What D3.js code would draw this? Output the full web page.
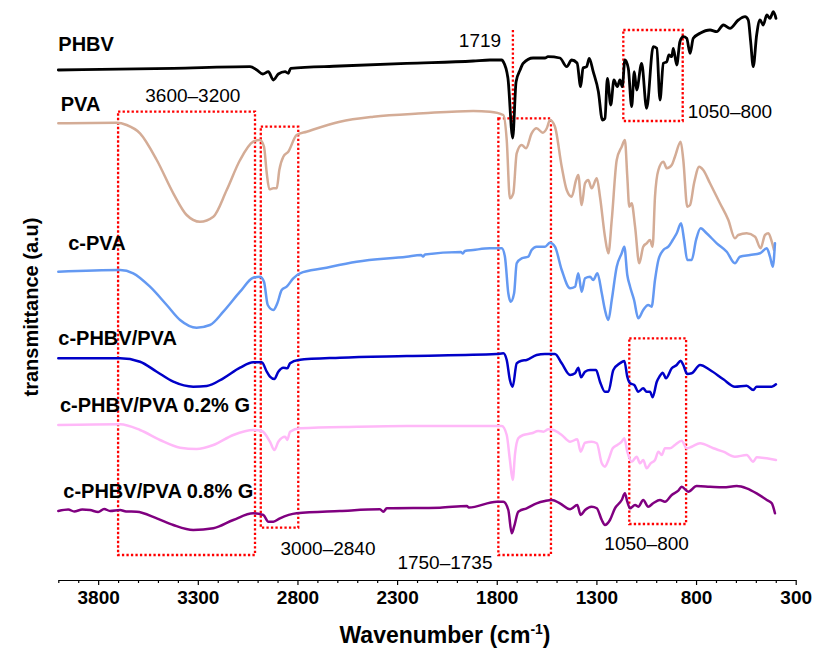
<!DOCTYPE html>
<html><head><meta charset="utf-8">
<script src="https://cdn.jsdelivr.net/npm/d3@7"></script>
<style>
body{margin:0;background:#fff;}
svg{display:block;font-family:"Liberation Sans",Arial,sans-serif;}
</style></head>
<body><svg id="c" width="813" height="649"></svg>
<script>
// ---- data: [wavenumber (cm-1), transmittance (a.u., stacked offset)] ----
const seriesNames = ["PHBV","PVA","c-PVA","c-PHBV/PVA","c-PHBV/PVA 0.2% G","c-PHBV/PVA 0.8% G"];
const seriesColors = ["#000000","#d4ac96","#6499f2","#0000c8","#ffb8f8","#800080"];

const phbv = [[4000,510],[3423,511.7],[3038,513.3],[3004,510],[2974,506],[2946,508.3],[2921,500],[2896,506],[2862,508.3],[2846,506.7],[2834,511.7],[2587,514],[2252,516.7],[1918,519],[1834,520],[1775,520],[1767,518.3],[1744,502],[1720,442],[1703,498.3],[1683,510],[1667,516.7],[1618,522],[1558,522],[1543,523.3],[1483,522],[1449,513.3],[1424,520],[1397,517],[1379,493.3],[1367,512],[1349,513.3],[1336,521.7],[1316,508.3],[1290,488.3],[1270,460],[1257,461.7],[1245,501.7],[1228,475],[1212,500],[1195,493.3],[1182,500],[1170,493.3],[1157,520],[1140,511.7],[1123,473.3],[1110,508.3],[1098,490],[1073,516.7],[1048,471.7],[1015,533.3],[997,531.7],[981,480],[964,516.7],[947,518.3],[936,525],[922,523.3],[914,531.7],[897,515],[881,538.3],[864,543.3],[847,541.7],[830,526.7],[814,541.7],[780,546.7],[730,550],[696,548.3],[663,555],[630,551.7],[588,560],[554,563.3],[538,560],[526,538.3],[513,513.3],[496,545],[479,560],[463,555],[445,565],[429,561.7],[412,568.3],[399,561.7]];

const pva = [[4000,456.7],[3707,457.3],[3657,455],[3590,446.7],[3506,420],[3423,386.7],[3356,365],[3289,358.3],[3222,363.3],[3155,390],[3088,420],[3022,438.3],[2988,440],[2968,433.3],[2954,406.7],[2941,390.7],[2921,391.7],[2904,391.7],[2891,410],[2871,423.3],[2846,428.3],[2804,445],[2754,448.3],[2587,458.3],[2419,463.3],[2169,466.7],[1918,469],[1834,468.3],[1767,465],[1750,440],[1734,381.7],[1717,386.7],[1700,426.7],[1675,435],[1653,431.7],[1625,446.7],[1600,451.7],[1569,447.3],[1549,451.7],[1533,460],[1508,453.3],[1474,413.3],[1449,390],[1424,383.3],[1402,400],[1391,405],[1374,375],[1357,396.7],[1341,400],[1324,391.7],[1298,401.7],[1282,383.3],[1257,343.3],[1240,326.7],[1223,360],[1198,420],[1173,433.3],[1157,440],[1145,403.3],[1135,373.3],[1123,376.7],[1106,353.3],[1085,316.7],[1065,333.3],[1048,336.7],[1031,340],[1018,333.3],[1006,383.3],[989,410],[964,418.3],[947,411.7],[922,415],[906,423.3],[877,438.3],[864,420],[844,373.3],[830,375],[810,396.7],[784,413.3],[764,410],[730,396.7],[680,376.7],[638,360],[605,341.7],[588,345],[546,346.7],[504,343.3],[476,331.7],[454,345],[437,346.7],[420,338.3],[409,330]];

const cpva = [[4000,308.3],[3690,310],[3624,306.7],[3540,293.3],[3456,275],[3389,260],[3306,252.3],[3239,255],[3172,268.3],[3088,288.3],[3022,302.3],[2988,303.3],[2968,298.3],[2949,275],[2921,270],[2901,276.7],[2879,290],[2854,293.3],[2821,301.7],[2787,306.7],[2670,311.7],[2503,318.3],[2252,323.3],[2180,325],[2170,323.5],[2160,325.5],[1980,328],[1970,326.5],[1960,329],[1918,330],[1834,331.7],[1775,331.7],[1759,323.3],[1742,286.7],[1730,278.3],[1713,286.7],[1700,316.7],[1675,321.7],[1642,323.3],[1625,330],[1600,333.3],[1558,333.3],[1533,337.3],[1508,333.3],[1474,310],[1432,291.7],[1407,293.3],[1391,306.7],[1374,288.3],[1357,301.7],[1332,303.3],[1316,300],[1295,306.7],[1273,286.7],[1257,270],[1240,260],[1223,280],[1198,313.3],[1173,326.7],[1160,333.3],[1145,305],[1131,293.3],[1111,280],[1090,261.7],[1065,270],[1040,275],[1023,273.3],[1006,300],[989,320],[964,330],[939,333.3],[917,340],[897,346.7],[875,356.7],[860,340],[844,320],[822,320],[800,340],[777,351.7],[747,346.7],[696,336.7],[646,328.3],[605,316.7],[580,323.3],[529,325],[479,326.7],[445,331.7],[429,323.3],[415,313.3],[404,336.7]];

const cphbvPva = [[4000,221.7],[3690,221.7],[3590,218.3],[3506,208.3],[3423,198.3],[3323,193.3],[3255,194],[3172,201.7],[3088,212.3],[3022,217.7],[2979,217.7],[2954,208.3],[2938,203.3],[2916,201],[2896,208.3],[2871,212.3],[2851,211.7],[2837,216.7],[2796,220],[2587,222.3],[2252,224],[1800,226],[1767,226.7],[1750,220],[1734,200],[1720,193.3],[1700,216.7],[1675,219.3],[1650,220],[1600,225],[1558,226],[1508,226],[1474,216.7],[1432,205],[1407,206.7],[1391,212.3],[1377,202.7],[1357,208.3],[1332,210],[1302,210],[1282,198.3],[1257,188.3],[1240,188.3],[1215,210],[1182,216.7],[1160,219],[1145,203.3],[1131,196.7],[1110,195],[1090,188.3],[1065,191.7],[1048,188.3],[1031,188.3],[1018,182.7],[997,198.3],[984,203.3],[967,207.3],[951,201.7],[922,211.7],[897,215],[877,219.3],[864,215],[844,206],[822,206.7],[780,215],[730,210],[663,200.7],[605,193.3],[546,194.3],[513,190],[496,193.3],[445,193.3],[420,193.3],[399,195.7]];

const g02 = [[4000,155],[3690,155.7],[3590,150],[3490,140],[3389,132.3],[3306,131],[3222,135],[3122,145],[3022,150],[2979,149],[2938,138.3],[2916,130],[2896,138.3],[2862,143.3],[2851,140],[2837,148.3],[2787,151.7],[2503,153.3],[2252,154],[1800,154],[1775,154],[1750,145],[1734,120],[1720,100],[1708,126.7],[1692,141.7],[1667,145],[1625,146.7],[1592,149],[1566,148.3],[1541,150.7],[1516,150],[1474,145],[1432,138.3],[1396,140.7],[1379,128.3],[1357,137.3],[1324,138.3],[1298,136.7],[1273,116.7],[1257,113.3],[1240,120],[1218,131.7],[1195,135],[1173,138.3],[1160,141.7],[1145,128.3],[1123,118.3],[1098,123.3],[1081,116.7],[1065,120],[1048,111.7],[1028,116.7],[1006,120],[989,128.3],[972,125],[956,131.7],[931,131.7],[906,135],[872,139.3],[847,131.7],[822,133.3],[780,136.7],[713,131.7],[663,128.3],[605,123.3],[546,125],[513,118.3],[496,122.7],[445,121.7],[399,120]];

const g08 = [[4000,69],[3950,70.5],[3920,68.5],[3880,70.5],[3841,70],[3800,68],[3770,71],[3740,69],[3690,70],[3660,68.5],[3607,68.3],[3506,61.7],[3423,55],[3323,50],[3222,51.7],[3122,60],[3022,66.7],[2971,65],[2946,58.3],[2921,58.3],[2888,61.7],[2804,66.7],[2587,69],[2386,70.7],[2369,68.3],[2352,71.7],[2085,72.3],[1950,74],[1940,72.5],[1800,78.3],[1767,78.3],[1742,70],[1725,46.7],[1713,53.3],[1692,68.3],[1650,71.7],[1600,76.7],[1558,79],[1524,80],[1483,76.7],[1432,70.7],[1396,75],[1379,65],[1357,70],[1324,73.3],[1298,71.7],[1273,60],[1257,55],[1232,60],[1207,71.7],[1173,80],[1157,86.7],[1145,78.3],[1131,71.7],[1106,75],[1090,73.3],[1065,80],[1040,73.3],[1015,76.7],[981,80],[956,78.3],[922,85],[889,89.3],[872,93.3],[839,88.3],[797,94],[730,93.3],[663,92.7],[596,94],[546,91.7],[496,86.7],[445,80],[420,76.7],[404,66.7]];

const seriesData = [phbv, pva, cpva, cphbvPva, g02, g08];

// axis ticks
const majorTicks = [3800, 3300, 2800, 2300, 1800, 1300, 800, 300];
const minorTicks = [4000,3900,3700,3600,3500,3400,3200,3100,3000,2900,2700,2600,2500,2400,2200,2100,2000,1900,1700,1600,1500,1400,1200,1100,1000,900,700,600,500,400];

// annotation regions: [wn from, wn to, t top, t bottom]
const boxes = [[3700,3013,468.3,25],[2984,2796,453.3,52.3],[1792,1528,461.7,25],[1165,867,550,459],[1135,850,241.7,56]];
const marker1719 = [1719, 550, 455];
// annotation labels: [text, wavenumber center, transmittance baseline]
const annoLabels = [["3600\u20133200",3325,478.3],["1719",1884,533.3],["1050\u2013800",630,462],["3000\u20132840",2647,25],["1750\u20131735",2060,11],["1050\u2013800",1048,30]];
// series label anchors: [wavenumber start, transmittance baseline]
const seriesLabelPos = [[4000,529.3],[3988,469.3],[3950,330],[4000,235],[3992,167.7],[3975,81.7]];

// ---- drawing ----
const svg = d3.select("#c");
const x = d3.scaleLinear().domain([4000, 300]).range([58.3, 795.7]);
const y = d3.scaleLinear().domain([0, 580]).range([580, 0]);

// red dotted annotations
const red = svg.append("g").attr("fill","none").attr("stroke","#ff0000").attr("stroke-width",2.3).attr("stroke-dasharray","2.3,2.2");
boxes.forEach(b => {
  red.append("rect")
    .attr("x", x(b[0])).attr("y", y(b[2]))
    .attr("width", x(b[1]) - x(b[0])).attr("height", y(b[3]) - y(b[2]));
});
red.append("line").attr("x1", x(marker1719[0])).attr("x2", x(marker1719[0]))
  .attr("y1", y(marker1719[1])).attr("y2", y(marker1719[2]));

// spectra
const line = d3.line().x(d => x(d[0])).y(d => y(d[1])).curve(d3.curveMonotoneX);
svg.append("g").selectAll("path").data(seriesData).join("path")
  .attr("d", line).attr("fill","none")
  .attr("stroke", (d,i) => seriesColors[i])
  .attr("stroke-width", (d,i) => i === 0 ? 2.8 : 2.5).attr("stroke-linejoin","round").attr("stroke-linecap","round");

// series labels
svg.append("g").selectAll("text").data(seriesNames).join("text")
  .attr("x", (d,i) => x(seriesLabelPos[i][0])).attr("y", (d,i) => y(seriesLabelPos[i][1]))
  .attr("font-size", 20).attr("font-weight","bold").attr("fill","#000").text(d => d);

// annotation labels
svg.append("g").selectAll("text").data(annoLabels).join("text")
  .attr("x", d => x(d[1])).attr("y", d => y(d[2]))
  .attr("text-anchor","middle").attr("font-size", 19).attr("fill","#000").text(d => d[0]);

// x axis
const axisY = y(0);
const gMinor = svg.append("g").attr("transform", `translate(0,${axisY})`)
  .call(d3.axisBottom(x).tickValues(minorTicks).tickSize(3).tickSizeOuter(0).tickFormat(""));
gMinor.select(".domain").remove();
const gAxis = svg.append("g").attr("transform", `translate(0,${axisY})`)
  .call(d3.axisBottom(x).tickValues(majorTicks).tickSize(5).tickSizeOuter(0).tickPadding(6).tickFormat(d3.format("d")));
svg.selectAll(".domain, .tick line").attr("stroke","#000").attr("stroke-width",1.2);
gAxis.selectAll(".tick text").attr("font-size",19).attr("font-weight","bold")
  .attr("font-family","'Liberation Sans',Arial,sans-serif").attr("fill","#000");

// axis titles
const xt = svg.append("text").attr("x", 445).attr("y", 643).attr("text-anchor","middle")
  .attr("font-size", 23).attr("font-weight","bold").attr("fill","#000");
xt.append("tspan").text("Wavenumber (cm");
xt.append("tspan").attr("font-size", 14).attr("dy", -9).text("-1");
xt.append("tspan").attr("dy", 9).text(")");

svg.append("text").attr("transform","translate(38,307) rotate(-90)")
  .attr("text-anchor","middle").attr("font-size",20).attr("font-weight","bold").attr("fill","#000")
  .text("transmittance (a.u)");
</script></body></html>
